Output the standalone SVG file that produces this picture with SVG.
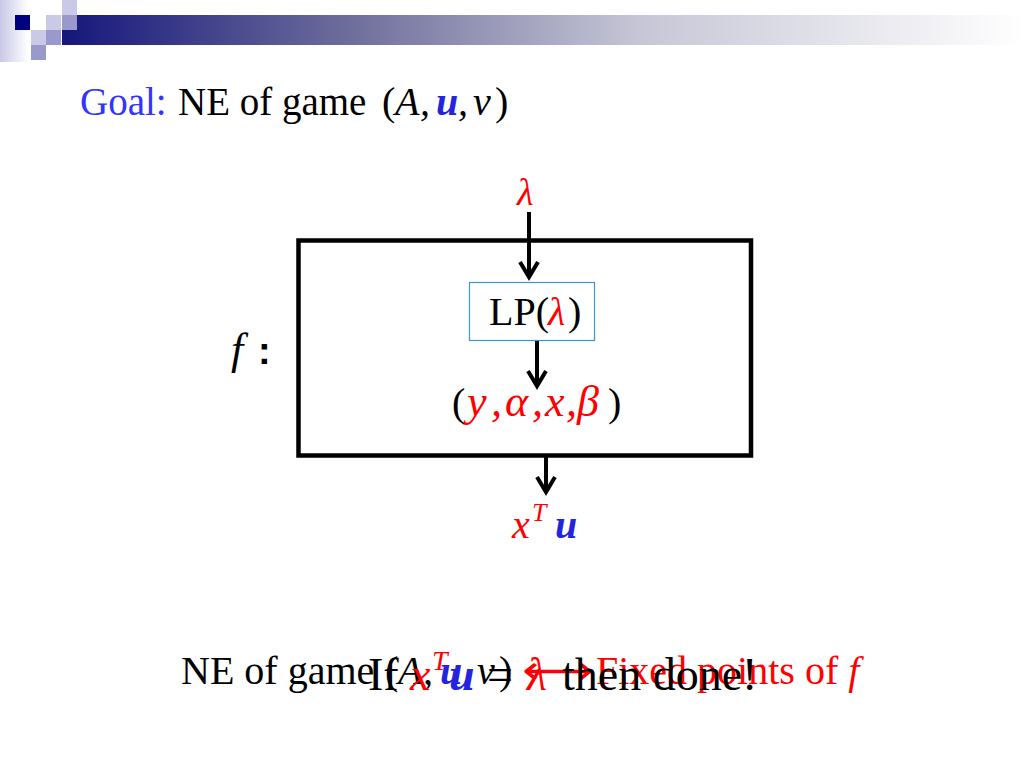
<svg xmlns="http://www.w3.org/2000/svg" width="1024" height="768" viewBox="0 0 1024 768">
<defs>
<linearGradient id="bar" x1="62" y1="0" x2="1024" y2="0" gradientUnits="userSpaceOnUse">
<stop offset="0" stop-color="#16167C"/>
<stop offset="0.3" stop-color="#6E6E9C"/>
<stop offset="0.6" stop-color="#C6C6D6"/>
<stop offset="1" stop-color="#FFFFFF"/>
</linearGradient>
<linearGradient id="edge" x1="0" y1="0" x2="1" y2="0">
<stop offset="0" stop-color="#C8C8E6" stop-opacity="1"/>
<stop offset="1" stop-color="#C8C8E6" stop-opacity="0"/>
</linearGradient>
<marker id="ah" markerUnits="userSpaceOnUse" markerWidth="40" markerHeight="40" viewBox="-20 -20 40 40" refX="0" refY="0" orient="auto">
<path d="M -15 -9 L 0 0 L -15 9" fill="none" stroke="#000" stroke-width="4" stroke-linejoin="miter"/>
</marker>
</defs>
<style>
.t{font-family:"Liberation Serif","Times New Roman",serif;}
.m{font-family:"Liberation Serif","Times New Roman",serif;font-style:italic;}
.n{font-style:normal;}
.red{fill:#FF0000;}
.ub{font-weight:bold;fill:#2424E0;}
.arrow{stroke:#000;stroke-width:4;fill:none;marker-end:url(#ah);}
</style>
<rect width="1024" height="768" fill="#FFFFFF"/>
<g id="decoration">
<rect x="0" y="0" width="28" height="62" fill="url(#edge)"/>
<rect x="62" y="15" width="962" height="30" fill="url(#bar)"/>
<rect x="62" y="0" width="15" height="15" fill="#CACAE6"/>
<rect x="15" y="15" width="15" height="15" fill="#000080"/>
<rect x="46" y="15" width="15" height="15" fill="#CACAE6"/>
<rect x="62" y="15" width="15" height="15" fill="#9999CC"/>
<rect x="31" y="30" width="15" height="15" fill="#CACAE6"/>
<rect x="46" y="30" width="15" height="15" fill="#9999CC"/>
<rect x="31" y="45" width="15" height="15" fill="#9999CC"/>
</g>
<g id="title">
<text class="t" x="80" y="115" font-size="39"><tspan fill="#3333FF">Goal:</tspan><tspan x="178" fill="#000">NE of game</tspan></text>
<text class="m" y="115" font-size="40" fill="#000"><tspan x="382" class="n">(</tspan><tspan x="395">A</tspan><tspan x="420">,</tspan><tspan x="436" class="ub">u</tspan><tspan x="458">,</tspan><tspan x="473">v</tspan><tspan x="495" class="n">)</tspan></text>
</g>
<g id="node-lambda">
<text class="m red" x="517" y="205" font-size="38">λ</text>
</g>
<g id="node-f">
<rect x="298.5" y="240.5" width="452.5" height="215" fill="none" stroke="#000" stroke-width="4.5"/>
<text class="m" x="231" y="364" font-size="44" fill="#000">f</text>
<text x="258" y="364" font-size="38" fill="#000" font-family="Liberation Sans, Arial, sans-serif" font-weight="bold">:</text>
</g>
<g id="node-lp">
<rect x="469.5" y="282.5" width="125" height="58" fill="#FFFFFF" stroke="#3C96C8" stroke-width="1.2"/>
<text class="t" y="325" font-size="40" fill="#000"><tspan x="489">LP(</tspan><tspan x="548" class="m red">λ</tspan><tspan x="568">)</tspan></text>
</g>
<g id="node-tuple">
<text class="t" y="416" font-size="40" fill="#000"><tspan x="452">(</tspan><tspan class="m red" font-size="44"><tspan x="467">y</tspan><tspan x="491">,</tspan><tspan x="505">α</tspan><tspan x="532">,</tspan><tspan x="545">x</tspan><tspan x="566">,</tspan><tspan x="577">β</tspan></tspan><tspan x="608">)</tspan></text>
</g>
<g id="node-out">
<text class="m red" x="512" y="538" font-size="40">x</text>
<text class="m red" x="532" y="521" font-size="26">T</text>
<text class="m ub" x="555" y="538" font-size="40">u</text>
</g>
<g id="connectors">
<line class="arrow" x1="529" y1="212" x2="529" y2="277"/>
<line class="arrow" x1="537" y1="341" x2="537" y2="386"/>
<line class="arrow" x1="546" y1="457" x2="546" y2="492"/>
</g>
<g id="bottom-text">
<text class="t" x="181" y="684" font-size="40" fill="#000">NE of game</text>
<text class="m" y="684" font-size="40" fill="#000"><tspan x="385" class="n">(</tspan><tspan x="398">A</tspan><tspan x="423">,</tspan><tspan x="440" class="ub">u</tspan><tspan x="462">,</tspan><tspan x="477">v</tspan><tspan x="499" class="n">)</tspan></text>
<text x="522" y="684" font-size="40" fill="#FF0000" font-family="DejaVu Sans, sans-serif" textLength="72" lengthAdjust="spacingAndGlyphs">⟷</text>
<text class="t red" x="596" y="684" font-size="40">Fixed points of <tspan class="m">f</tspan></text>
<text class="t" x="368" y="690" font-size="46" fill="#000">If</text>
<text class="m red" x="410" y="690" font-size="46">x</text>
<text class="m red" x="432" y="670" font-size="28">T</text>
<text class="m ub" x="449" y="690" font-size="46">u</text>
<text class="t" x="487" y="690" font-size="46" fill="#000">=</text>
<text class="m red" x="527" y="690" font-size="46">λ</text>
<text class="t" x="562" y="690" font-size="46" fill="#000">then done!</text>
</g>
</svg>
